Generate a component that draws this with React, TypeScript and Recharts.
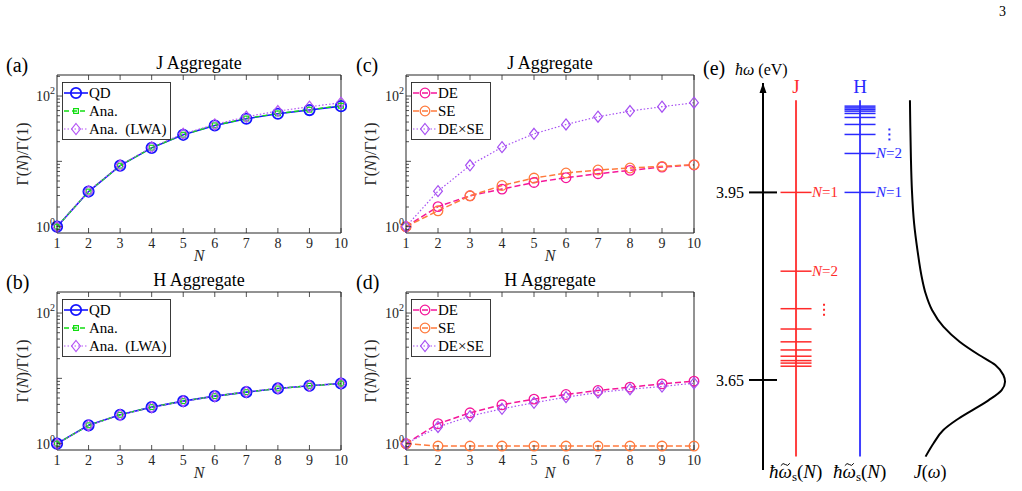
import React from "react";
import {
  LineChart,
  Line,
  XAxis,
  YAxis,
  Legend,
  ComposedChart,
  Scatter,
  ReferenceLine,
  ReferenceDot,
} from "recharts";

const FONT = "'Liberation Serif', 'Times New Roman', serif";
const AX = "#262626";

const N = [1, 2, 3, 4, 5, 6, 7, 8, 9, 10];

// (a) J aggregate
const jQD = [1, 3.45, 8.6, 16.1, 25.5, 35.4, 44.9, 53.6, 61, 70];
const jAna = [1, 3.45, 8.6, 16.2, 25.6, 35.6, 45.3, 54.2, 61.8, 71];
const jLWA = [1, 3.5, 8.7, 16.5, 26.4, 36.7, 48.2, 58.9, 68.7, 79];

// (b) H aggregate
const hQD = [1, 1.91, 2.77, 3.63, 4.48, 5.34, 6.15, 7.0, 7.69, 8.34];
const hAna = [1, 1.91, 2.77, 3.63, 4.48, 5.34, 6.15, 7.0, 7.69, 8.34];
const hLWA = [1, 1.9, 2.75, 3.6, 4.45, 5.32, 6.2, 7.02, 7.72, 8.4];

// (c) J aggregate, DE / SE
const jDE = [1, 2.03, 2.97, 3.76, 4.75, 5.61, 6.47, 7.27, 8.19, 8.8];
const jSE = [1, 1.75, 2.97, 4.27, 5.55, 6.63, 7.37, 7.91, 8.38, 8.9];
const jDESE = [1, 3.5, 8.7, 16.5, 26.4, 36.7, 48.2, 58.9, 68.7, 79];

// (d) H aggregate, DE / SE
const hDE = [1, 2.02, 2.97, 3.94, 4.81, 5.66, 6.52, 7.33, 8.24, 9.05];
const hSE = [1, 0.92, 0.92, 0.92, 0.92, 0.92, 0.92, 0.92, 0.92, 0.92];
const hDESE = [1, 1.8, 2.64, 3.42, 4.23, 5.16, 6.08, 6.83, 7.5, 8.44];

const Y_DOMAIN = [0.8, 210];
const Y_TICKS = [0.9, 1, 2, 3, 4, 5, 6, 7, 8, 9, 10, 20, 30, 40, 50, 60, 70, 80, 90, 100, 200];

// (e) energy levels (eV)
const jLevels = [3.95, 3.824, 3.764, 3.7315, 3.711, 3.698, 3.688, 3.681, 3.677, 3.672];
const hLevels = [3.95, 4.0123, 4.0427, 4.0587, 4.0699, 4.0763, 4.08, 4.0827, 4.0852, 4.088];
const levelTags = [
  { x: 1, e: 3.95, n: 1, c: "J" },
  { x: 1, e: 3.824, n: 2, c: "J" },
  { x: 2, e: 3.95, n: 1, c: "H" },
  { x: 2, e: 4.0123, n: 2, c: "H" },
];
const ellipses = [
  { x: 1.4375, e: 3.7623, c: "J" },
  { x: 2.459, e: 4.0427, c: "H" },
];
const heads = [
  { x: 1, e: 4.1087, c: "J" },
  { x: 2, e: 4.1087, c: "H" },
];
const feet = [
  { x: 1, e: 3.506, k: "w" },
  { x: 2, e: 3.506, k: "w" },
  { x: 3.094, e: 3.506, k: "J" },
];
const specE = [4.0975, 4.0603, 4.0069, 3.9537, 3.9004, 3.8578, 3.8098, 3.7886, 3.7619, 3.7352, 3.7112,
  3.6899, 3.6739, 3.6579, 3.6472, 3.6339, 3.6178, 3.6019, 3.5859, 3.5699, 3.5488, 3.5274];
const specJ = [0.084, 0.087, 0.093, 0.103, 0.124, 0.156, 0.203, 0.234, 0.296, 0.405, 0.561,
  0.748, 0.904, 0.981, 0.997, 0.965, 0.841, 0.685, 0.53, 0.405, 0.311, 0.234];
const E_DOMAIN = [3.506, 4.125];
const E_TICKS = [3.65, 3.95];
const COL_LINE = [3.5274, 4.0975];

const BLUE = "#1414ff";
const GREEN = "#12dd12";
const VIOLET = "#b455f5";
const PINK = "#f5169a";
const ORANGE = "#ff7a3d";
const PURPLE = "#a64ff2";
const RED_E = "#ff2a2a";
const BLUE_E = "#2a2aff";

type Kind = "circle" | "square" | "diamond";
type S = { key: string; name: string; data: number[]; color: string; width: number; dash?: string; marker: Kind; r: number; sw: number };

function Mark({ kind, cx, cy, color, r, sw }: any) {
  if (kind === "circle") return <circle cx={cx} cy={cy} r={r} fill="none" stroke={color} strokeWidth={sw} />;
  if (kind === "square")
    return <rect x={cx - r} y={cy - r} width={2 * r} height={2 * r} fill="none" stroke={color} strokeWidth={sw} />;
  return (
    <polygon
      points={`${cx},${cy - r} ${cx + r * 0.8},${cy} ${cx},${cy + r} ${cx - r * 0.8},${cy}`}
      fill="none"
      stroke={color}
      strokeWidth={sw}
    />
  );
}

const isMajor = (v: number) => v === 1 || v === 10 || v === 100;

function LeftTick({ x, y, payload }: any) {
  const v = payload.value;
  const len = isMajor(v) ? 5 : 3;
  return (
    <g>
      <line x1={x} x2={x + len} y1={y} y2={y} stroke={AX} strokeWidth={0.8} />
      {(v === 1 || v === 100) && (
        <text x={x - 2} y={y + 5} textAnchor="end" fontSize={14} fill={AX} fontFamily={FONT}>
          10
          <tspan dy={-7} fontSize={10}>{v === 1 ? "0" : "2"}</tspan>
        </text>
      )}
    </g>
  );
}

function RightTick({ x, y, payload }: any) {
  const len = isMajor(payload.value) ? 5 : 3;
  return <line x1={x} x2={x - len} y1={y} y2={y} stroke={AX} strokeWidth={0.8} />;
}

function BottomTick({ x, y, payload }: any) {
  return (
    <g>
      <line x1={x} x2={x} y1={y} y2={y - 5} stroke={AX} strokeWidth={0.8} />
      <text x={x} y={y + 15} textAnchor="middle" fontSize={14} fill={AX} fontFamily={FONT}>
        {payload.value}
      </text>
    </g>
  );
}

function TopTick({ x, y }: any) {
  return <line x1={x} x2={x} y1={y} y2={y + 5} stroke={AX} strokeWidth={0.8} />;
}

function LegendBox({ items, w }: { items: S[]; w: number }) {
  return (
    <svg width={w} height={58} style={{ display: "block" }}>
      <rect x={0.5} y={0.5} width={w - 1} height={57} fill="#fff" stroke={AX} strokeWidth={0.9} />
      {items.map((s, i) => {
        const cy = 11 + i * 18;
        return (
          <g key={s.key}>
            <line x1={2} x2={26} y1={cy} y2={cy} stroke={s.color} strokeWidth={s.width} strokeDasharray={s.dash} />
            <Mark kind={s.marker} cx={14} cy={cy} color={s.color} r={s.r} sw={s.sw} />
            <text x={27} y={cy + 5} fontSize={15} fill="#000" fontFamily={FONT}>
              {s.name}
            </text>
          </g>
        );
      })}
    </svg>
  );
}

const PLOT_TOP = 25;
const PLOT_H = 158;

function Panel({ left, top, tag, title, series, yW, ylabX, legendW, legX, width }: any) {
  const rows = N.map((n, i) => {
    const r: any = { n };
    series.forEach((s: S) => (r[s.key] = s.data[i]));
    return r;
  });
  const plotRight = width - 9;
  const cx = (yW + plotRight) / 2;
  return (
    <div style={{ position: "absolute", left, top }}>
      <LineChart width={width} height={215} data={rows} margin={{ top: PLOT_TOP - 1, right: 8, bottom: 0, left: 0 }}>
        <XAxis
          dataKey="n"
          type="number"
          domain={[1, 10]}
          ticks={N}
          interval={0}
          height={32}
          tickSize={0}
          tickMargin={0}
          stroke={AX}
          tick={BottomTick}
          label={{
            content: () => (
              <text x={cx} y={PLOT_TOP + PLOT_H + 28} textAnchor="middle" fontSize={16} fontStyle="italic" fontFamily={FONT} fill={AX}>
                N
              </text>
            ),
          }}
        />
        <XAxis
          xAxisId="t"
          orientation="top"
          type="number"
          domain={[1, 10]}
          ticks={N}
          interval={0}
          height={1}
          tickSize={0}
          tickMargin={0}
          stroke={AX}
          tick={TopTick}
        />
        <YAxis
          scale="log"
          domain={Y_DOMAIN}
          ticks={Y_TICKS}
          interval={0}
          width={yW}
          tickSize={0}
          tickMargin={0}
          stroke={AX}
          tick={LeftTick}
          label={{
            content: () => (
              <g fontFamily={FONT}>
                <text
                  x={ylabX}
                  y={PLOT_TOP + PLOT_H / 2}
                  transform={`rotate(-90, ${ylabX}, ${PLOT_TOP + PLOT_H / 2})`}
                  textAnchor="middle"
                  dominantBaseline="central"
                  fontSize={16}
                  fill={AX}
                >
                  Γ(<tspan fontStyle="italic">N</tspan>)/Γ(1)
                </text>
                <text x={cx} y={PLOT_TOP - 6.5} textAnchor="middle" fontSize={18} fill="#000">
                  {title}
                </text>
                <text x={6} y={PLOT_TOP - 3} fontSize={20} fill="#000">
                  {tag}
                </text>
              </g>
            ),
          }}
        />
        <YAxis
          yAxisId="r"
          orientation="right"
          scale="log"
          domain={Y_DOMAIN}
          ticks={Y_TICKS}
          interval={0}
          width={1}
          tickSize={0}
          tickMargin={0}
          stroke={AX}
          tick={RightTick}
        />
        {series.map((s: S) => (
          <Line
            key={s.key}
            dataKey={s.key}
            type="linear"
            stroke={s.color}
            strokeWidth={s.width}
            strokeDasharray={s.dash}
            isAnimationActive={false}
            dot={(p: any) => (
              <Mark key={`${s.key}-${p.index}`} kind={s.marker} cx={p.cx} cy={p.cy} color={s.color} r={s.r} sw={s.sw} />
            )}
            activeDot={false}
          />
        ))}
        <Legend
          layout="vertical"
          align="center"
          verticalAlign="middle"
          wrapperStyle={{ left: legX, top: 32, width: "auto", height: "auto" }}
          content={() => <LegendBox items={series} w={legendW} />}
        />
      </LineChart>
    </div>
  );
}

const sQD = (d: number[]): S => ({ key: "qd", name: "QD", data: d, color: BLUE, width: 1.6, marker: "circle", r: 5.2, sw: 1.8 });
const sAna = (d: number[]): S => ({ key: "ana", name: "Ana.", data: d, color: GREEN, width: 1.4, dash: "5 3", marker: "square", r: 2.4, sw: 1.2 });
const sLWA = (d: number[]): S => ({ key: "lwa", name: "Ana.\u00a0\u00a0(LWA)", data: d, color: VIOLET, width: 1.2, dash: "1.5 2", marker: "diamond", r: 5.5, sw: 1.2 });
const sDE = (d: number[]): S => ({ key: "de", name: "DE", data: d, color: PINK, width: 1.5, dash: "6 3", marker: "circle", r: 4.8, sw: 1.3 });
const sSE = (d: number[]): S => ({ key: "se", name: "SE", data: d, color: ORANGE, width: 1.5, dash: "6 3", marker: "circle", r: 4.8, sw: 1.3 });
const sDESE = (d: number[]): S => ({ key: "dese", name: "DE×SE", data: d, color: PURPLE, width: 1.2, dash: "1.5 2", marker: "diamond", r: 5.5, sw: 1.2 });

function LevelShape(color: string) {
  return (p: any) => (
    <line x1={p.cx - 15.5} x2={p.cx + 15.5} y1={p.cy} y2={p.cy} stroke={color} strokeWidth={1.5} />
  );
}

function TagShape(p: any) {
  const t = p.payload;
  const color = t.c === "J" ? RED_E : BLUE_E;
  return (
    <text x={p.cx + 16} y={p.cy + 5} fontSize={15} fontFamily={FONT} fill={color}>
      <tspan fontStyle="italic">N</tspan>={t.n}
    </text>
  );
}

function DotsShape(p: any) {
  const color = p.payload.c === "J" ? RED_E : BLUE_E;
  return (
    <g fill={color}>
      {[-5, 0, 5].map((d) => (
        <rect key={d} x={p.cx - 1} y={p.cy + d - 1} width={2} height={2} />
      ))}
    </g>
  );
}

function HeadShape(p: any) {
  const c = p.payload.c;
  return (
    <text x={p.cx} y={p.cy} textAnchor="middle" fontSize={19} fontFamily={FONT} fill={c === "J" ? RED_E : BLUE_E}>
      {c}
    </text>
  );
}

function FootShape(p: any) {
  const y = p.cy + 8;
  if (p.payload.k === "J")
    return (
      <text x={p.cx} y={y} textAnchor="middle" fontSize={18} fontFamily={FONT} fill="#000">
        <tspan fontStyle="italic">J</tspan>(<tspan fontStyle="italic">ω</tspan>)
      </text>
    );
  const x0 = p.cx - 27;
  const tx = x0 + 16.3;
  const ty = y - 13.5;
  return (
    <g fontFamily={FONT} fill="#000">
      <text x={x0} y={y} fontSize={19}>
        <tspan fontStyle="italic">ħω</tspan>
        <tspan fontSize={13} dy={3}>s</tspan>
        <tspan dy={-3}>(</tspan>
        <tspan fontStyle="italic">N</tspan>)
      </text>
      <path
        d={`M ${tx - 4.5},${ty + 1.2} Q ${tx - 2.3},${ty - 2.4} ${tx},${ty} T ${tx + 4.5},${ty - 1.2}`}
        fill="none"
        stroke="#000"
        strokeWidth={1}
      />
    </g>
  );
}

function ETick({ x, y, payload }: any) {
  return (
    <g>
      <line x1={x - 14} x2={x + 14} y1={y} y2={y} stroke="#000" strokeWidth={2} />
      <text x={x - 19} y={y + 6} textAnchor="end" fontSize={16} fontFamily={FONT} fill="#000">
        {payload.value.toFixed(2)}
      </text>
    </g>
  );
}

function Arrow(p: any) {
  return <polygon points={`${p.cx},${p.cy} ${p.cx + 3.5},${p.cy + 10} ${p.cx - 3.5},${p.cy + 10}`} fill="#000" />;
}

const X_DOMAIN_E = [0.484, 4.453];

function PanelE() {
  const jData = jLevels.map((e) => ({ x: 1, e }));
  const hData = hLevels.map((e) => ({ x: 2, e }));
  const spec = specE.map((e, i) => ({ j: specJ[i], e }));
  return (
    <div style={{ position: "absolute", left: 700, top: 0 }}>
      <ComposedChart width={322} height={491} margin={{ top: 83, right: 5, bottom: 21, left: 0 }}>
        <XAxis xAxisId="lv" dataKey="x" type="number" domain={X_DOMAIN_E} hide />
        <XAxis xAxisId="sp" dataKey="j" type="number" domain={[-1.327, 1.112]} hide />
        <YAxis
          dataKey="e"
          type="number"
          domain={E_DOMAIN}
          ticks={E_TICKS}
          interval={0}
          width={63}
          axisLine={{ stroke: "#000", strokeWidth: 2 }}
          tickLine={false}
          tickSize={0}
          tickMargin={0}
          tick={ETick}
          label={{
            content: () => (
              <g fontFamily={FONT} fill="#000">
                <text x={3} y={75} fontSize={20}>(e)</text>
                <text x={35} y={75} fontSize={16}>
                  <tspan fontStyle="italic">ħω</tspan> (eV)
                </text>
              </g>
            ),
          }}
        />
        <ReferenceLine xAxisId="lv" segment={[{ x: 1, y: COL_LINE[0] }, { x: 1, y: COL_LINE[1] }]} stroke="#ff4040" strokeWidth={2} />
        <ReferenceLine xAxisId="lv" segment={[{ x: 2, y: COL_LINE[0] }, { x: 2, y: COL_LINE[1] }]} stroke="#4040ff" strokeWidth={2} />
        <Scatter xAxisId="lv" data={jData} shape={LevelShape(RED_E)} isAnimationActive={false} />
        <Scatter xAxisId="lv" data={hData} shape={LevelShape(BLUE_E)} isAnimationActive={false} />
        <Scatter xAxisId="lv" data={levelTags} shape={TagShape} isAnimationActive={false} />
        <Scatter xAxisId="lv" data={ellipses} shape={DotsShape} isAnimationActive={false} />
        <Scatter xAxisId="lv" data={heads} shape={HeadShape} isAnimationActive={false} />
        <Scatter xAxisId="lv" data={feet} shape={FootShape} isAnimationActive={false} />
        <Scatter
          xAxisId="sp"
          data={spec}
          line={{ stroke: "#000", strokeWidth: 2 }}
          lineJointType="monotoneY"
          shape={() => <g />}
          isAnimationActive={false}
        />
        <ReferenceDot xAxisId="lv" x={X_DOMAIN_E[0]} y={E_DOMAIN[1]} ifOverflow="visible" shape={Arrow} />
      </ComposedChart>
    </div>
  );
}

export default function App() {
  return (
    <div
      style={{
        position: "absolute",
        left: 0,
        top: 0,
        width: 1022,
        height: 491,
        background: "#fff",
        fontFamily: FONT,
        overflow: "hidden",
      }}
    >
      <div style={{ position: "absolute", left: 999, top: 4, fontSize: 14, fontFamily: FONT }}>3</div>
      <Panel left={0} top={50} width={350} tag="(a)" title="J Aggregate" yW={57} ylabX={22} legX={62} legendW={109}
        series={[sQD(jQD), sAna(jAna), sLWA(jLWA)]} />
      <Panel left={0} top={267} width={350} tag="(b)" title="H Aggregate" yW={57} ylabX={22} legX={62} legendW={109}
        series={[sQD(hQD), sAna(hAna), sLWA(hLWA)]} />
      <Panel left={350} top={50} width={353} tag="(c)" title="J Aggregate" yW={56} ylabX={20} legX={61} legendW={80}
        series={[sDE(jDE), sSE(jSE), sDESE(jDESE)]} />
      <Panel left={350} top={267} width={353} tag="(d)" title="H Aggregate" yW={56} ylabX={20} legX={61} legendW={80}
        series={[sDE(hDE), sSE(hSE), sDESE(hDESE)]} />
      <PanelE />
    </div>
  );
}
